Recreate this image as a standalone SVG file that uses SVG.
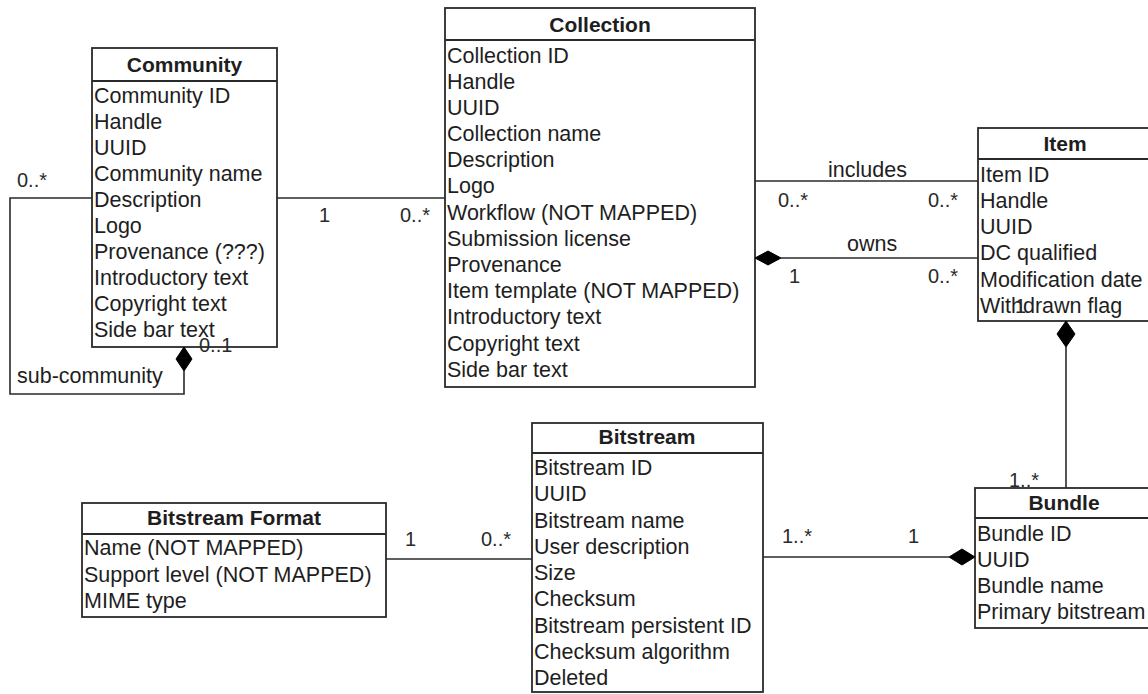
<svg xmlns="http://www.w3.org/2000/svg" width="1148" height="694" viewBox="0 0 1148 694">
<style>
.box{fill:#fff;stroke:#2a2a2a;stroke-width:1.8}
.sep{stroke:#2a2a2a;stroke-width:1.8}
.t{font-family:"Liberation Sans",Arial,sans-serif;font-size:21.5px;fill:#1e1e1e}
.h{font-family:"Liberation Sans",Arial,sans-serif;font-size:21px;font-weight:bold;fill:#1e1e1e;text-anchor:middle}
.m{font-family:"Liberation Sans",Arial,sans-serif;font-size:20px;fill:#2a2a2a}
.ln{fill:none;stroke:#2a2a2a;stroke-width:1.6}
.dm{fill:#000;stroke:#000;stroke-width:1}
</style>
<rect width="1148" height="694" fill="#fff"/>
<g id="community">
<rect class="box" x="92" y="48" width="185" height="299"/>
<line class="sep" x1="92" y1="81" x2="277" y2="81"/>
<text class="h" x="184.5" y="72">Community</text>
<text class="t" x="94" y="103">Community ID</text>
<text class="t" x="94" y="129">Handle</text>
<text class="t" x="94" y="155">UUID</text>
<text class="t" x="94" y="181">Community name</text>
<text class="t" x="94" y="207">Description</text>
<text class="t" x="94" y="233">Logo</text>
<text class="t" x="94" y="259">Provenance (???)</text>
<text class="t" x="94" y="285">Introductory text</text>
<text class="t" x="94" y="311">Copyright text</text>
<text class="t" x="94" y="337">Side bar text</text>
</g>
<g id="collection">
<rect class="box" x="445" y="8" width="310" height="379"/>
<line class="sep" x1="445" y1="40" x2="755" y2="40"/>
<text class="h" x="600" y="32">Collection</text>
<text class="t" x="447" y="63">Collection ID</text>
<text class="t" x="447" y="89">Handle</text>
<text class="t" x="447" y="115">UUID</text>
<text class="t" x="447" y="141">Collection name</text>
<text class="t" x="447" y="167">Description</text>
<text class="t" x="447" y="193">Logo</text>
<text class="t" x="447" y="220">Workflow (NOT MAPPED)</text>
<text class="t" x="447" y="246">Submission license</text>
<text class="t" x="447" y="272">Provenance</text>
<text class="t" x="447" y="298">Item template (NOT MAPPED)</text>
<text class="t" x="447" y="324">Introductory text</text>
<text class="t" x="447" y="351">Copyright text</text>
<text class="t" x="447" y="377">Side bar text</text>
</g>
<g id="item">
<rect class="box" x="978" y="128" width="190" height="193"/>
<line class="sep" x1="978" y1="159" x2="1168" y2="159"/>
<text class="h" x="1065" y="151">Item</text>
<text class="t" x="980" y="182">Item ID</text>
<text class="t" x="980" y="208">Handle</text>
<text class="t" x="980" y="234">UUID</text>
<text class="t" x="980" y="260">DC qualified</text>
<text class="t" x="980" y="287">Modification date</text>
<text class="t" x="980" y="313">Withdrawn flag</text>
</g>
<g id="bundle">
<rect class="box" x="975" y="488" width="190" height="140"/>
<line class="sep" x1="975" y1="518" x2="1165" y2="518"/>
<text class="h" x="1064" y="510">Bundle</text>
<text class="t" x="977" y="541">Bundle ID</text>
<text class="t" x="977" y="567">UUID</text>
<text class="t" x="977" y="593">Bundle name</text>
<text class="t" x="977" y="619">Primary bitstream</text>
</g>
<g id="bitstream">
<rect class="box" x="532" y="423" width="231" height="269"/>
<line class="sep" x1="532" y1="453" x2="763" y2="453"/>
<text class="h" x="647" y="444">Bitstream</text>
<text class="t" x="534" y="475">Bitstream ID</text>
<text class="t" x="534" y="501">UUID</text>
<text class="t" x="534" y="528">Bitstream name</text>
<text class="t" x="534" y="554">User description</text>
<text class="t" x="534" y="580">Size</text>
<text class="t" x="534" y="606">Checksum</text>
<text class="t" x="534" y="633">Bitstream persistent ID</text>
<text class="t" x="534" y="659">Checksum algorithm</text>
<text class="t" x="534" y="685">Deleted</text>
</g>
<g id="bitstream-format">
<rect class="box" x="82" y="503" width="304" height="114"/>
<line class="sep" x1="82" y1="534" x2="386" y2="534"/>
<text class="h" x="234" y="525">Bitstream Format</text>
<text class="t" x="84" y="555">Name (NOT MAPPED)</text>
<text class="t" x="84" y="582">Support level (NOT MAPPED)</text>
<text class="t" x="84" y="608">MIME type</text>
</g>
<g id="connectors">
<polyline class="ln" points="277,198 445,198"/>
<polyline class="ln" points="92,198 10,198 10,394 184,394 184,371"/>
<polygon class="dm" points="184,347 192,359 184,371 176,359"/>
<polyline class="ln" points="755,181 978,181"/>
<polyline class="ln" points="781,258 978,258"/>
<polygon class="dm" points="755,258 768,251 781,258 768,265"/>
<polyline class="ln" points="1066,347 1066,488"/>
<polygon class="dm" points="1066,321 1075,334 1066,347 1057,334"/>
<polyline class="ln" points="386,559 532,559"/>
<polyline class="ln" points="763,557 949,557"/>
<polygon class="dm" points="975,557 962,549 949,557 962,565"/>
<text class="m" x="17" y="187">0..*</text>
<text class="m" x="199" y="352">0..1</text>
<text class="t" x="17" y="383">sub-community</text>
<text class="m" x="319" y="222">1</text>
<text class="m" x="400" y="222">0..*</text>
<text class="t" x="828" y="177">includes</text>
<text class="m" x="778" y="207">0..*</text>
<text class="m" x="928" y="207">0..*</text>
<text class="t" x="847" y="251">owns</text>
<text class="m" x="789" y="283">1</text>
<text class="m" x="928" y="283">0..*</text>
<text class="m" x="1015" y="313">1</text>
<text class="m" x="1009" y="487">1..*</text>
<text class="m" x="782" y="543">1..*</text>
<text class="m" x="908" y="543">1</text>
<text class="m" x="405" y="546">1</text>
<text class="m" x="481" y="546">0..*</text>
</g>
</svg>
